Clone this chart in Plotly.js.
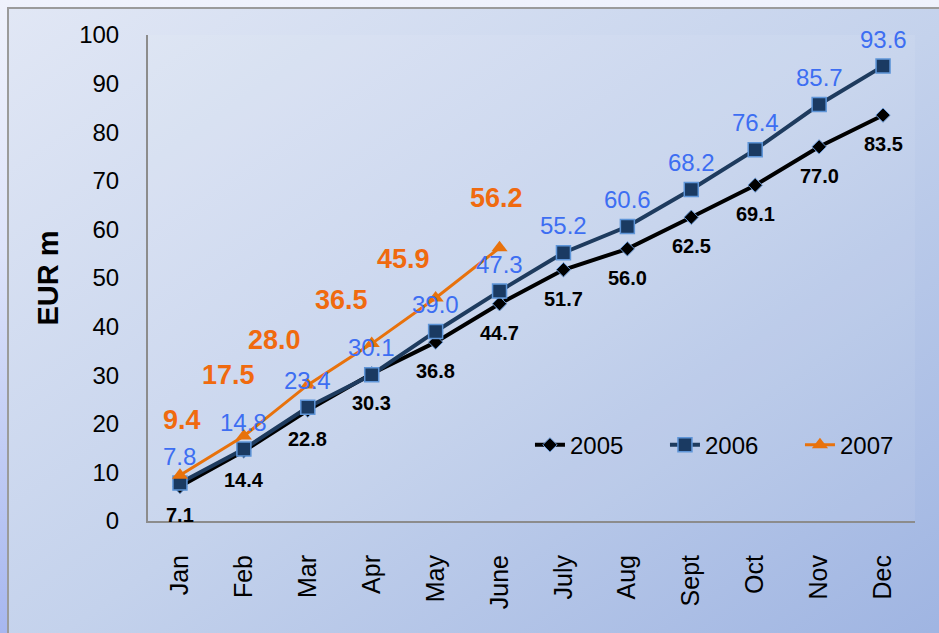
<!DOCTYPE html>
<html>
<head>
<meta charset="utf-8">
<script src="https://cdn.plot.ly/plotly-3.0.1.min.js"></script>
<style>
  html, body { margin: 0; padding: 0; width: 939px; height: 633px; overflow: hidden; }
  body { background: linear-gradient(to bottom, #eff2fc 0%, #dde3fa 40%, #a7b7ef 100%); position: relative; }
  #frame { position: absolute; left: 7px; top: 7px; width: 960px; height: 660px;
           border-left: 2px solid #9b9b9b; border-top: 2px solid #9b9b9b;
           background: linear-gradient(to bottom right, #e1e7f5 0%, #c4d2ec 50%, #9cb2e1 100%); }
  #chart { position: absolute; left: 0; top: 0; width: 939px; height: 633px; }
</style>
</head>
<body>
<div id="frame"></div>
<div id="chart"></div>
<script>
const months = ["Jan","Feb","Mar","Apr","May","June","July","Aug","Sept","Oct","Nov","Dec"];
const v2005 = [7.1, 14.4, 22.8, 30.3, 36.8, 44.7, 51.7, 56.0, 62.5, 69.1, 77.0, 83.5];
const v2006 = [7.8, 14.8, 23.4, 30.1, 39.0, 47.3, 55.2, 60.6, 68.2, 76.4, 85.7, 93.6];
const v2007 = [9.4, 17.5, 28.0, 36.5, 45.9, 56.2];
const yTicks = [0, 10, 20, 30, 40, 50, 60, 70, 80, 90, 100];

// label placement offsets (pixels) for the 2007 labels
const off2007x = [2, -15, -33, -30, -32, -3];
const off2007y = [55, 61, 45, 44, 39, 50];

const FONT = "Liberation Sans, Arial, sans-serif";

const traces = [
  { x: months, y: v2005, name: "2005", type: "scatter", mode: "lines+markers",
    line: { color: "#000000", width: 4 },
    marker: { symbol: "diamond", size: 11, color: "#000000", line: { color: "#6a9ad8", width: 1 } } },
  { x: months, y: v2006, name: "2006", type: "scatter", mode: "lines+markers",
    line: { color: "#1e3b5e", width: 4 },
    marker: { symbol: "square", size: 14, color: "#1a3a62", line: { color: "#5e95d8", width: 1.5 } } },
  { x: months.slice(0, v2007.length), y: v2007, name: "2007", type: "scatter", mode: "lines+markers",
    line: { color: "#e8720c", width: 3 },
    marker: { symbol: "triangle-up", size: 14, color: "#e8720c" } }
];

const annotations = [];
v2005.forEach((v, i) => annotations.push({
  x: months[i], y: v, xref: "x", yref: "y", text: v.toFixed(1), showarrow: false,
  yshift: -29, font: { family: FONT, size: 20, color: "#000000", weight: "bold" }
}));
v2006.forEach((v, i) => annotations.push({
  x: months[i], y: v, xref: "x", yref: "y", text: v.toFixed(1), showarrow: false,
  yshift: 27, font: { family: FONT, size: 24, color: "#3d6ef2" }
}));
v2007.forEach((v, i) => annotations.push({
  x: months[i], y: v, xref: "x", yref: "y", text: v.toFixed(1), showarrow: false,
  xshift: off2007x[i], yshift: off2007y[i],
  font: { family: FONT, size: 27, color: "#f06a0f", weight: "bold" }
}));

const layout = {
  width: 939, height: 633,
  margin: { l: 148, r: 24, t: 35, b: 112, autoexpand: false },
  paper_bgcolor: "rgba(0,0,0,0)",
  plot_bgcolor: "rgba(255,255,255,0.07)",
  font: { family: FONT, size: 24, color: "#000000" },
  showlegend: true,
  legend: { orientation: "h", x: 0.498, xanchor: "left", y: 0.156, yanchor: "middle",
            bgcolor: "rgba(0,0,0,0)", font: { family: FONT, size: 24, color: "#000" },
            entrywidth: 90, entrywidthmode: "pixels", traceorder: "normal" },
  xaxis: {
    type: "category", categoryorder: "array", categoryarray: months,
    range: [-0.5, 11.5], showgrid: false, zeroline: false, automargin: false,
    showline: true, linecolor: "#8c8c8c", linewidth: 2,
    ticks: "", tickangle: -90, ticklabelstandoff: 22,
    tickfont: { family: FONT, size: 25, color: "#000" }
  },
  yaxis: {
    range: [0, 100], tickvals: yTicks, ticktext: yTicks.map(String),
    showgrid: false, zeroline: false, automargin: false,
    showline: true, linecolor: "#8c8c8c", linewidth: 2,
    ticks: "", ticklabelstandoff: 22,
    tickfont: { family: FONT, size: 24, color: "#000" },
    title: { text: "EUR m", standoff: 12, font: { family: FONT, size: 29, color: "#000", weight: "bold" } }
  },
  annotations: annotations
};

Plotly.newPlot("chart", traces, layout, { displayModeBar: false, staticPlot: true });
</script>
</body>
</html>
